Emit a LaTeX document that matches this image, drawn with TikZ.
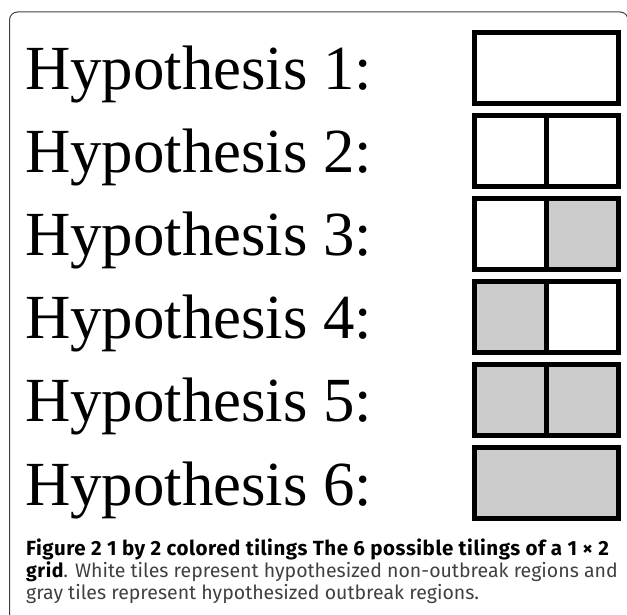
\documentclass[tikz,border=0pt]{standalone}
\usepackage{fontspec}
\setmainfont{Liberation Serif}
\newfontfamily\capfont{Fira Sans}
\newfontfamily\capbold{Fira Sans}[LetterSpace=2.6]
\usetikzlibrary{positioning}
\definecolor{tilegray}{HTML}{CCCCCC}
\definecolor{captext}{HTML}{404040}

\begin{document}
\begin{tikzpicture}[x=1pt, y=1pt,
		hyp/.style={anchor=base west, inner sep=0pt, font=\fontsize{62.8}{70}\selectfont},
		tile/.style={rectangle, draw=black, line width=5pt, outer sep=0pt, inner sep=0pt,
			minimum width=72pt, minimum height=71pt, fill=white},
		widetile/.style={tile, minimum width=144pt},
		frame/.style={draw=black!75, line width=1pt, rounded corners=8pt},
		]
		\useasboundingbox (0,0) rectangle (627,614);

		% Frame
		\draw[frame] (9.5,-20) -- (9.5,602) -- (628,602) -- (628,-20);

		% Labels
		\foreach \n in {1,...,6}
			\node[hyp] (hyp\n) at (25,{524-83*(\n-1)}) {Hypothesis \n:};

		% Tilings
		\node[widetile] (tiles1) at (546.5,546) {};
		\foreach \n/\fl/\fr in {2/white/white, 3/white/tilegray, 4/tilegray/white, 5/tilegray/tilegray} {
			\node[tile, fill=\fl] (left\n) at (510.5,{546-83*(\n-1)}) {};
			\node[tile, fill=\fr, right=0pt of left\n] (right\n) {};
		}
		\node[widetile, fill=tilegray] (tiles6) at (546.5,131) {};

		% Caption
		\node[anchor=base west, inner sep=0pt, align=left, text=captext,
			font=\capfont\fontsize{19.5}{22}\selectfont] (caption) at (26,15)
			{\textcolor{black}{\capbold\fontsize{20.5}{22}\selectfont\bfseries Figure 2 1 by 2 colored tilings The 6 possible tilings of a 1 × 2}\\
			\textcolor{black}{\capbold\bfseries grid}. White tiles represent hypothesized non-outbreak regions and\\
			gray tiles represent hypothesized outbreak regions.};
	\end{tikzpicture}
\end{document}
